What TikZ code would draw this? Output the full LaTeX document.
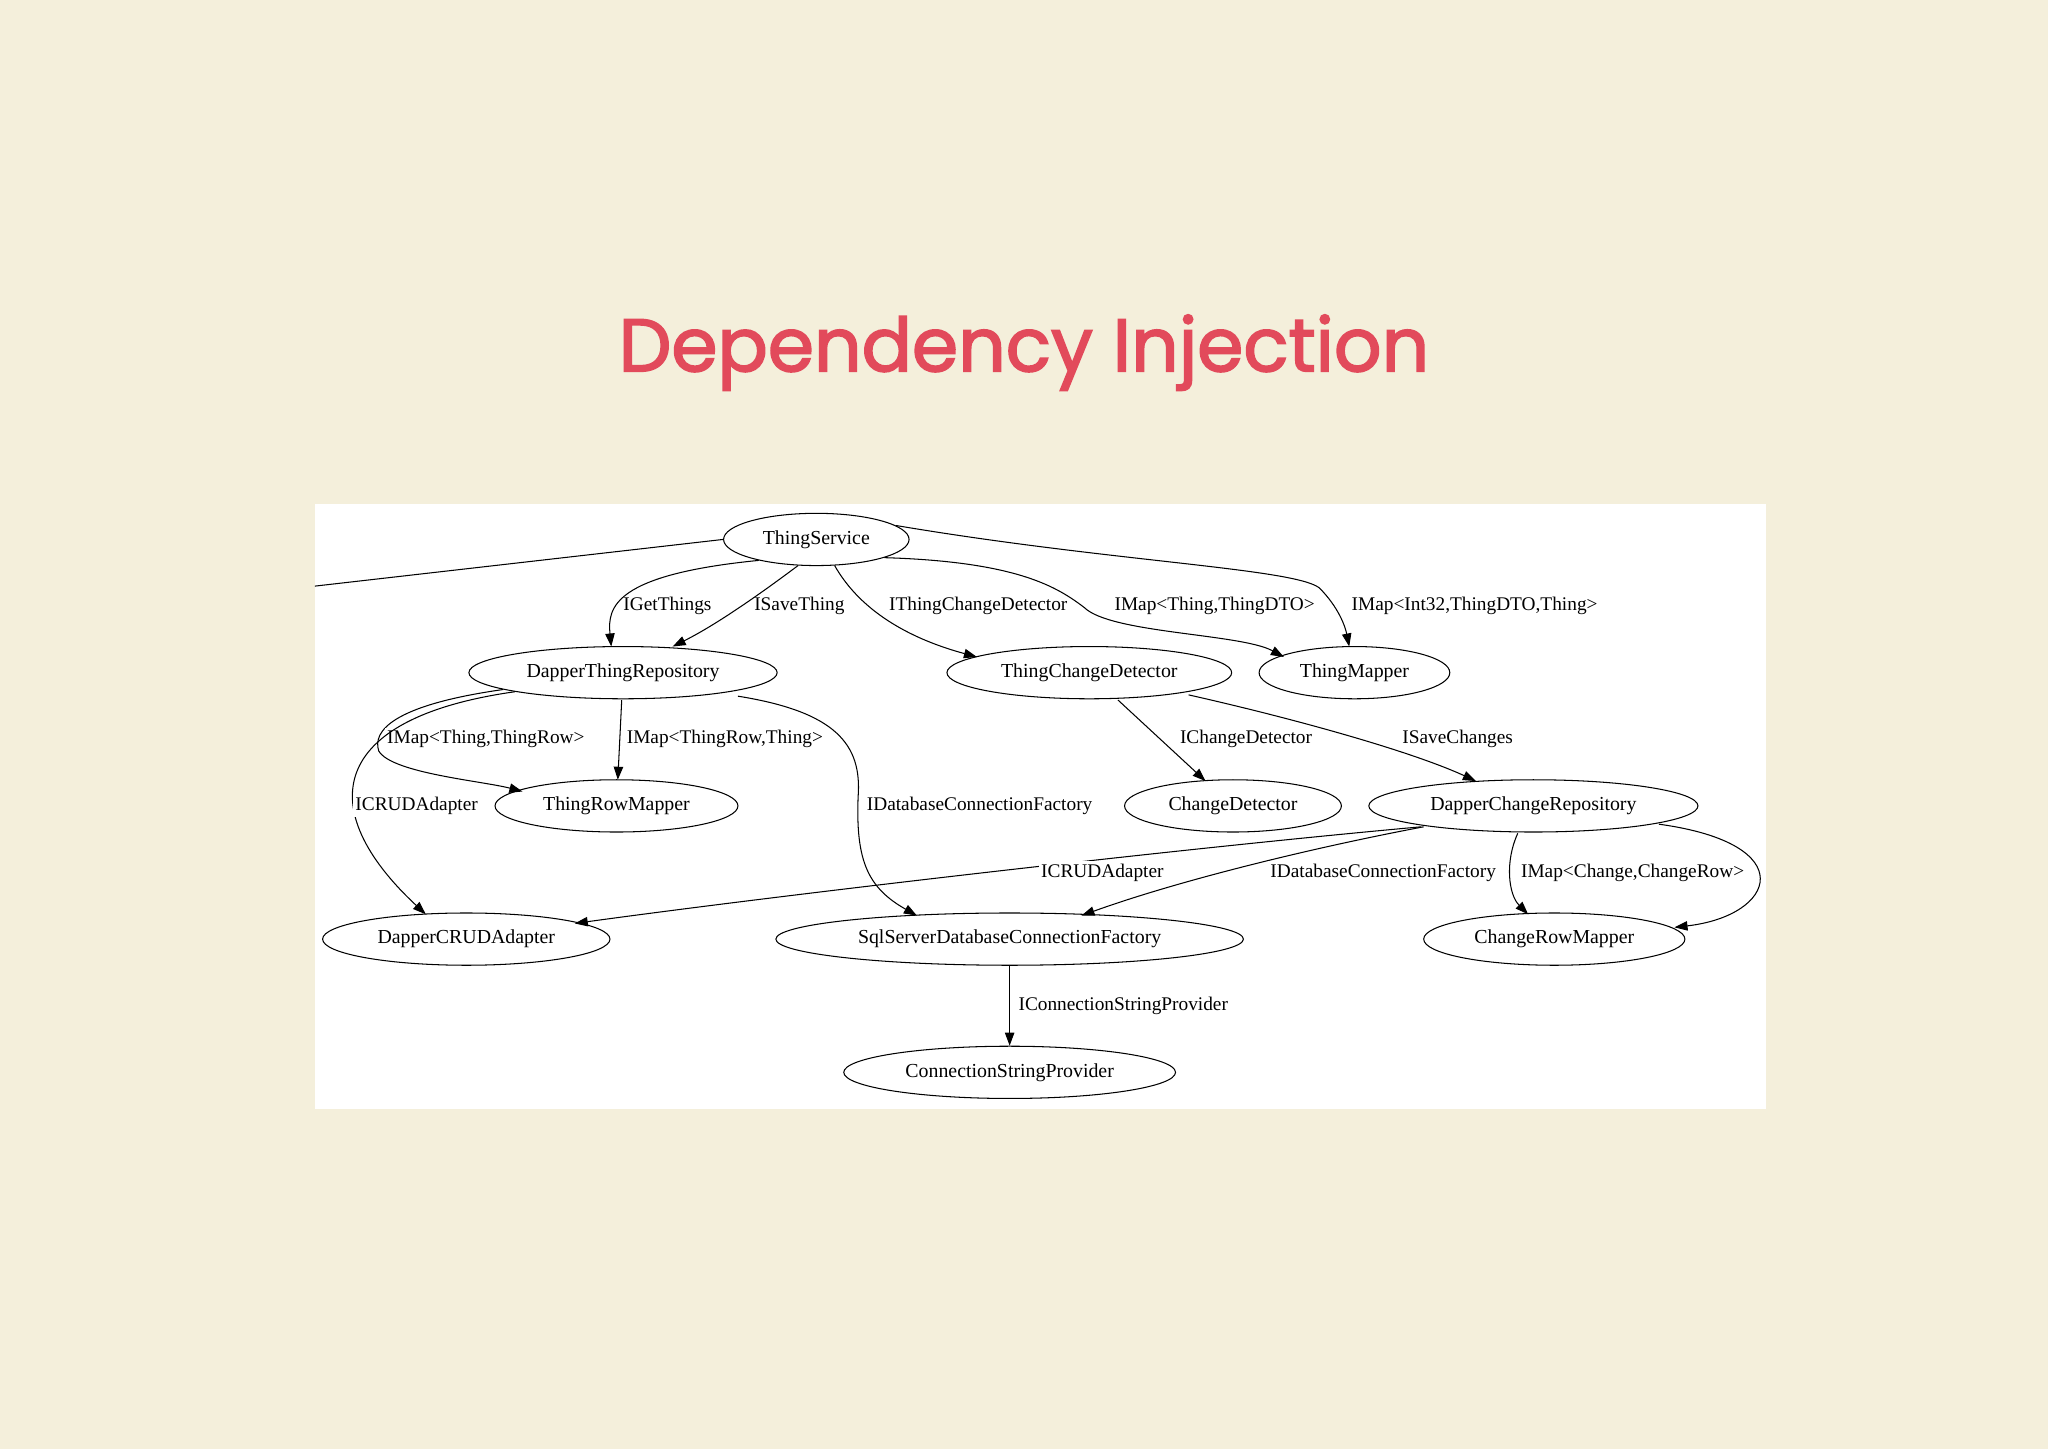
\documentclass[tikz,border=0pt]{standalone}
\usepackage{fontspec}
\setmainfont{Liberation Serif}
\newfontfamily\titlefont{Poppins}[FakeBold=2.2]
\usetikzlibrary{shapes.geometric,arrows.meta}
\definecolor{bg}{HTML}{F4EFDB}
\definecolor{ttl}{HTML}{E24A5B}
\begin{document}
\begin{tikzpicture}[x=0.5pt,y=-0.5pt,
  nd/.style={draw,ellipse,inner sep=0pt,minimum height=20pt,font=\fontsize{7.6}{9}\selectfont},
  lb/.style={font=\fontsize{7.4}{9}\selectfont,inner sep=1pt},
  ar/.style={-{Triangle[length=5pt,width=3.6pt]},thin}]
\useasboundingbox (0,0) rectangle (1568,1109);
\fill[bg] (0,0) rectangle (1568,1109);
\node[text=ttl,font=\titlefont\fontsize{28.5}{36}\selectfont] (title) at (784,270) {Dependency Injection};
\fill[white] (241,386) rectangle (1352,849);
\begin{scope}
\clip (241,386) rectangle (1352,849);
\node[nd,minimum width=71pt] (ts) at (625,413) {ThingService};
\node[nd,minimum width=118pt] (dtr) at (477,515) {DapperThingRepository};
\node[nd,minimum width=109pt] (tcd) at (834,515) {ThingChangeDetector};
\node[nd,minimum width=73pt] (tm) at (1037,515) {ThingMapper};
\node[nd,minimum width=93pt] (trm) at (472,617) {ThingRowMapper};
\node[nd,minimum width=83pt] (cd) at (944,617) {ChangeDetector};
\node[nd,minimum width=126pt] (dcr) at (1174,617) {DapperChangeRepository};
\node[nd,minimum width=110pt] (dca) at (357,719) {DapperCRUDAdapter};
\node[nd,minimum width=179pt] (sql) at (773,719) {SqlServerDatabaseConnectionFactory};
\node[nd,minimum width=100pt] (crm) at (1190,719) {ChangeRowMapper};
\node[nd,minimum width=127pt] (csp) at (773,821) {ConnectionStringProvider};
\coordinate (lft) at (230,450);
\draw[thin] (lft) -- (ts.west);
% ThingService edges
\draw[ar] (ts.200) .. controls (470,440) and (465,465) .. (468,495);
\node[lb] (l1) at (511,464) {IGetThings};
\draw[ar] (ts.235) .. controls (575,460) and (545,480) .. (515,495);
\node[lb] (l2) at (612,464) {ISaveThing};
\draw[ar] (ts.305) .. controls (660,470) and (700,490) .. (748,503);
\node[lb] (l3) at (749,464) {IThingChangeDetector};
\draw[ar] (ts.345) .. controls (780,430) and (810,450) .. (830,465) .. controls (850,485) and (950,485) .. (983,503);
\node[lb,fill=white] (l4) at (930,464) {IMap<Thing,ThingDTO>};
\draw[ar] (ts.10) .. controls (850,430) and (990,435) .. (1010,450) .. controls (1025,465) and (1030,480) .. (1033,495);
\node[lb,fill=white] (l5) at (1129,464) {IMap<Int32,ThingDTO,Thing>};
% DapperThingRepository edges
\draw[ar] (dtr.188) .. controls (300,540) and (285,560) .. (290,575) .. controls (300,592) and (370,598) .. (400,606);
\node[lb,fill=white] (l6) at (372,566) {IMap<Thing,ThingRow>};
\draw[ar] (476,536) -- (473,597);
\node[lb,fill=white] (l7) at (555,566) {IMap<ThingRow,Thing>};
\draw[ar] (dtr.190) .. controls (250,550) and (240,620) .. (326,700);
\node[lb,fill=white] (l8) at (319,617) {ICRUDAdapter};
\draw[ar] (565,533) .. controls (640,545) and (660,570) .. (657,610) .. controls (655,660) and (665,680) .. (702,701);
\node[lb,fill=white] (l9) at (750,617) {IDatabaseConnectionFactory};
% ThingChangeDetector edges
\draw[ar] (856,536) -- (923,598);
\node[lb] (l10) at (954,566) {IChangeDetector};
\draw[ar] (910,532) .. controls (990,550) and (1080,575) .. (1130,598);
\node[lb] (l11) at (1116,566) {ISaveChanges};
% DapperChangeRepository edges
\draw[ar] (1088,633) .. controls (900,650) and (600,685) .. (440,707);
\node[lb,fill=white] (l12) at (844,668) {ICRUDAdapter};
\draw[ar] (1090,633) .. controls (1000,650) and (900,675) .. (828,701);
\node[lb,fill=white] (l13) at (1059,668) {IDatabaseConnectionFactory};
\draw[ar] (1162,638) .. controls (1152,660) and (1155,685) .. (1170,700);
\node[lb,fill=white] (l14) at (1250,668) {IMap<Change,ChangeRow>};
\draw[ar] (1270,631) .. controls (1380,646) and (1360,701) .. (1282,710);
% Sql
\draw[ar] (sql) -- (csp);
\node[lb] (l15) at (860,770) {IConnectionStringProvider};
\end{scope}
\end{tikzpicture}
\end{document}
